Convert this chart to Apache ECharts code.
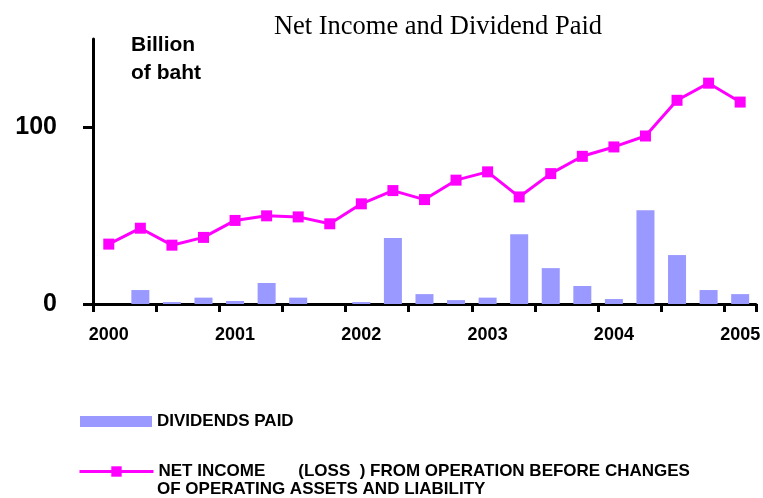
<!DOCTYPE html>
<html>
<head>
<meta charset="utf-8">
<script src="https://cdn.jsdelivr.net/npm/echarts@6/dist/echarts.min.js"></script>
<style>
  html, body { margin: 0; padding: 0; background: #fff; }
  #chart { width: 763px; height: 498px; }
</style>
</head>
<body>
<div id="chart"></div>
<script>
// quarterly points, 2000 Q1 .. 2005 Q1
var quarters = ['2000Q1','2000Q2','2000Q3','2000Q4','2001Q1','2001Q2','2001Q3','2001Q4',
    '2002Q1','2002Q2','2002Q3','2002Q4','2003Q1','2003Q2','2003Q3','2003Q4',
    '2004Q1','2004Q2','2004Q3','2004Q4','2005Q1'];
var dividends = [0, 7.9, 1.1, 3.6, 1.7, 11.9, 3.6, 0, 1.1, 37.3, 5.6, 2.2, 3.6, 39.5,
    20.3, 10.2, 2.8, 53.1, 27.7, 7.9, 5.6];
var netIncome = [33.9, 42.9, 33.3, 37.7, 47.3, 49.9, 49.3, 45.4, 56.7, 64.2, 59.1, 70.1,
    74.8, 60.6, 73.8, 83.6, 88.9, 95.1, 115.3, 125.0, 114.3];
var yTicks = [0, 100];

var barName = 'DIVIDENDS PAID';
var lineName = 'NET INCOME       (LOSS  ) FROM OPERATION BEFORE CHANGES';
var lineName2 = 'OF OPERATING ASSETS AND LIABILITY';

var font = "'Liberation Sans', Arial, sans-serif";

var chart = echarts.init(document.getElementById('chart'));
var option = {
    animation: false,
    title: [
        {
            text: 'Net Income and Dividend Paid',
            left: 438,
            textAlign: 'center',
            top: 14,
            padding: 0,
            textStyle: {
                fontFamily: "'Liberation Serif', 'Times New Roman', serif",
                fontWeight: 'normal',
                fontSize: 26.5,
                color: '#000'
            }
        },
        {
            text: 'Billion\nof baht',
            left: 131,
            top: 31,
            padding: 0,
            textStyle: {
                fontFamily: font,
                fontWeight: 'bold',
                fontSize: 21,
                lineHeight: 28,
                color: '#000'
            }
        }
    ],
    legend: [
        {
            orient: 'vertical',
            left: 80,
            top: 413,
            padding: 0,
            itemWidth: 72,
            itemHeight: 11,
            data: [{ name: barName, icon: 'rect' }],
            textStyle: { fontFamily: font, fontWeight: 'bold', fontSize: 17, color: '#000' }
        },
        {
            orient: 'vertical',
            left: 78,
            top: 463,
            padding: 0,
            itemWidth: 74,
            itemHeight: 13,
            lineStyle: { width: 3 },
            data: [lineName],
            textStyle: { fontFamily: font, fontWeight: 'bold', fontSize: 17, color: '#000' }
        }
    ],
    graphic: [
        {
            type: 'text',
            left: 157,
            top: 481,
            style: {
                text: lineName2,
                fontFamily: font,
                fontWeight: 'bold',
                fontSize: 17,
                fill: '#000'
            }
        }
    ],
    grid: { left: 93, right: -1, top: 39, bottom: 194 },
    xAxis: {
        type: 'category',
        data: quarters,
        boundaryGap: true,
        axisLine: { lineStyle: { color: '#000', width: 3 } },
        axisTick: { show: true, interval: 1, length: 8, lineStyle: { color: '#000', width: 3 } },
        axisLabel: {
            interval: 3,
            margin: 22,
            formatter: function (v) { return v.slice(0, 4); },
            fontFamily: font,
            fontWeight: 'bold',
            fontSize: 18,
            color: '#000'
        },
        splitLine: { show: false }
    },
    yAxis: {
        type: 'value',
        min: 0,
        max: 150,
        axisLine: { show: true, lineStyle: { color: '#000', width: 3 } },
        axisTick: { show: true, customValues: yTicks, length: 10, lineStyle: { color: '#000', width: 3 } },
        axisLabel: {
            customValues: yTicks,
            margin: 36,
            fontFamily: font,
            fontWeight: 'bold',
            fontSize: 25,
            color: '#000'
        },
        splitLine: { show: false }
    },
    series: [
        {
            name: barName,
            type: 'bar',
            data: dividends,
            barWidth: 18,
            itemStyle: { color: '#9999ff' }
        },
        {
            name: lineName,
            type: 'line',
            data: netIncome,
            symbol: 'rect',
            symbolSize: 11,
            lineStyle: { color: '#ff00ff', width: 3 },
            itemStyle: { color: '#ff00ff' }
        }
    ]
};
chart.setOption(option);
</script>
</body>
</html>
